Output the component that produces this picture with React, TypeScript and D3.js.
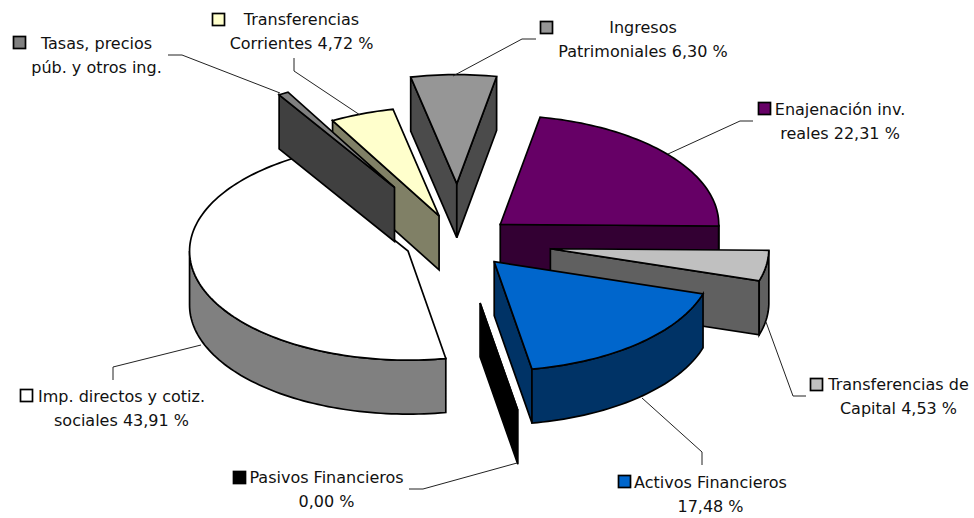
import React from "react";
import * as d3 from "d3";

const names = ["Enajenación inv. reales", "Transferencias de Capital", "Activos Financieros", "Pasivos Financieros", "Imp. directos y cotiz. sociales", "Tasas, precios púb. y otros ing.", "Transferencias Corrientes", "Ingresos Patrimoniales"];
const values = [22.31, 4.53, 17.48, 0.0, 43.91, 0.75, 4.72, 6.3];
const labelLines = [
  ["Enajenación inv.", "reales 22,31 %"],
  ["Transferencias de", "Capital 4,53 %"],
  ["Activos Financieros", "17,48 %"],
  ["Pasivos Financieros", "0,00 %"],
  ["Imp. directos y cotiz.", "sociales 43,91 %"],
  ["Tasas, precios", "púb. y otros ing."],
  ["Transferencias", "Corrientes 4,72 %"],
  ["Ingresos", "Patrimoniales 6,30 %"],
];

// ---- layout and style, separate from the data ----
const topColors = ["#660066", "#C0C0C0", "#0066CC", "#000000", "#FFFFFF", "#808080", "#FFFFCC", "#969696"];
const wallColors = ["#330033", "#606060", "#003366", "#000000", "#808080", "#404040", "#808066", "#4B4B4B"];
const explode = [54, 93, 54, 125, 54, 126, 55, 116];
const paintOrder = [4, 6, 5, 7, 0, 1, 2, 3];
const labelCx = [840, 898.5, 710.5, 326.5, 121.5, 96.5, 301.5, 643];
const labelY = [115, 390, 488, 483, 402, 49, 25, 33];
const keyX = [758, 810, 618, 233, 20, 13, 212, 540];
const keyY = [102, 378, 475, 471, 389, 36, 13, 21];
const leaders: [number, number][][] = [
  [[753, 121], [740, 121], [668, 154]],
  [[806, 396], [793, 396], [766, 322]],
  [[702, 465], [702, 452], [642, 398]],
  [[409, 489], [423, 489], [517, 463]],
  [[113, 380], [113, 367], [201, 345]],
  [[168, 55], [182, 55], [280, 93]],
  [[294, 58], [294, 71], [360, 115]],
  [[536, 39], [522, 39], [453, 76]],
];
const CX = 458.5, CY = 241.5, RX = 218.5, RY = 109, DEPTH = 54;
const FONT = "'DejaVu Sans', sans-serif";

const arcs = d3
  .pie<number>()
  .sort(null)
  .startAngle((10.5 * Math.PI) / 180)
  .endAngle((370.5 * Math.PI) / 180)(values);

const lineGen = d3.line<[number, number]>();

function Slice({ i }: { i: number }) {
  const a = arcs[i];
  const mid = (a.startAngle + a.endAngle) / 2;
  const ax = CX + explode[i] * Math.sin(mid);
  const ay = CY - explode[i] * (RY / RX) * Math.cos(mid);
  const pt = (t: number): [number, number] => [ax + RX * Math.sin(t), ay - RY * Math.cos(t)];
  const arcPts = (t0: number, t1: number): [number, number][] => {
    const n = Math.max(2, Math.ceil(Math.abs(t1 - t0) * 40));
    return d3.range(n + 1).map((k) => pt(t0 + ((t1 - t0) * k) / n));
  };
  const down = (p: [number, number]): [number, number] => [p[0], p[1] + DEPTH];
  const walls: [number, number][][] = [];
  const apex: [number, number] = [ax, ay];
  if (Math.sin(a.startAngle) < 0) {
    const p = pt(a.startAngle);
    walls.push([apex, p, down(p), down(apex)]);
  }
  if (Math.sin(a.endAngle) > 0) {
    const p = pt(a.endAngle);
    walls.push([apex, p, down(p), down(apex)]);
  }
  // front-facing part of the outer rim
  const lo = Math.max(a.startAngle, Math.PI / 2);
  const hi = Math.min(a.endAngle, (3 * Math.PI) / 2);
  if (hi > lo) {
    const top = arcPts(lo, hi);
    walls.push([...top, ...top.slice().reverse().map(down)]);
  }
  const topPts: [number, number][] = [apex, ...arcPts(a.startAngle, a.endAngle)];
  const stroke = "#000";
  return (
    <g>
      {walls.map((w, k) => (
        <path key={k} d={lineGen(w) + "Z"} fill={wallColors[i]} stroke={stroke} strokeWidth={1.7} strokeLinejoin="miter" />
      ))}
      <path d={lineGen(topPts) + "Z"} fill={topColors[i]} stroke={stroke} strokeWidth={1.7} strokeLinejoin="miter" />
    </g>
  );
}

export default function App() {
  return (
    <svg
      width={974}
      height={518}
      viewBox="0 0 974 518"
      style={{ position: "absolute", left: 0, top: 0, background: "#fff" }}
    >
      {paintOrder.map((i) => (
        <Slice key={i} i={i} />
      ))}
      {leaders.map((l, i) => (
        <path key={i} d={lineGen(l) ?? ""} fill="none" stroke="#222" strokeWidth={1} />
      ))}
      {names.map((n, i) => (
        <g key={n}>
          <rect x={keyX[i] + 0.5} y={keyY[i] + 0.5} width={12} height={12} fill={topColors[i]} stroke="#000" strokeWidth={1.7} />
          {labelLines[i].map((t, k) => (
            <text key={k} x={labelCx[i]} y={labelY[i] + k * 24} textAnchor="middle" fontFamily={FONT} fontSize={16} fill="#111">
              {t}
            </text>
          ))}
        </g>
      ))}
    </svg>
  );
}
